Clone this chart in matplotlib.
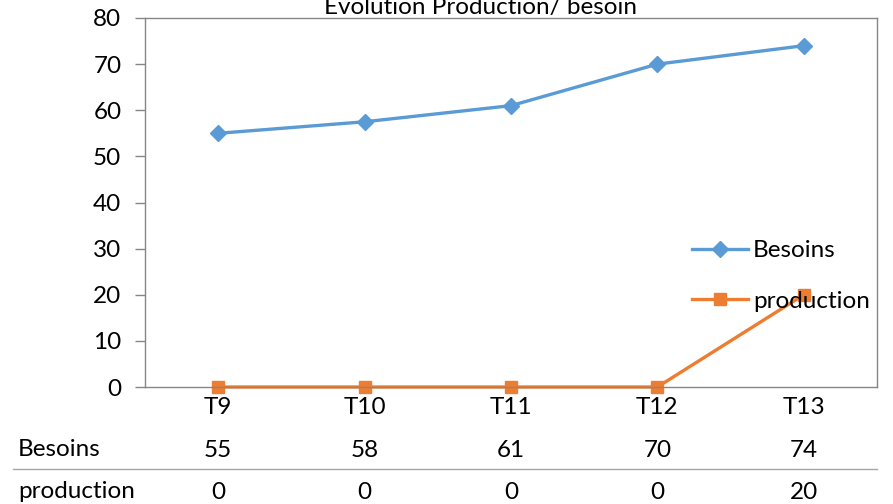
import matplotlib
matplotlib.use("Agg")
import matplotlib.pyplot as plt

# donnees du graphique
periodes = ["T9", "T10", "T11", "T12", "T13"]
besoins = [55, 57.5, 61, 70, 74]
production = [0, 0, 0, 0, 20]
yticks = [0, 10, 20, 30, 40, 50, 60, 70, 80]

plt.rcParams['font.family'] = ['Lato', 'DejaVu Sans']
fs = 17.5
grey = "#868686"

fig = plt.figure(figsize=(8.93, 5.04), dpi=100)
ax = fig.add_axes([145/893, 1 - 387/504, (877 - 145)/893, (387 - 18)/504])

x = range(len(periodes))
ax.plot(x, besoins, color="#5B9BD5", lw=2.4, marker="D", ms=8, label="Besoins")
ax.plot(x, production, color="#ED7D31", lw=2.4, marker="s", ms=9, label="production",
        clip_on=False)

ax.set_xlim(-0.5, len(periodes) - 0.5)
ax.set_ylim(0, 80)
ax.set_yticks(yticks)
ax.tick_params(axis="y", labelsize=fs, length=7, color=grey, pad=10, width=1)
ax.set_xticks([])
for s in ax.spines.values():
    s.set_color(grey)
    s.set_linewidth(1)

# tableau de donnees sous le graphique
tr = ax.get_xaxis_transform()
for i, p in enumerate(periodes):
    ax.text(i, -0.055, p, transform=tr, ha="center", va="center", fontsize=fs)
    ax.text(i, -0.172, f"{besoins[i]:.0f}", transform=tr, ha="center", va="center", fontsize=fs)
    ax.text(i, -0.285, f"{production[i]:.0f}", transform=tr, ha="center", va="center", fontsize=fs)
fig.text(18/893, 1 - 450/504, "Besoins", ha="left", va="center", fontsize=fs)
fig.text(18/893, 1 - 491/504, "production", ha="left", va="center", fontsize=fs)
fig.add_artist(plt.Line2D([13/893, 877/893], [1 - 469/504, 1 - 469/504], color="#A6A6A6", lw=1))

fig.text(481/893, 1 - 14/504, "Evolution Production/ besoin", ha="center", va="baseline", fontsize=fs)

ax.legend(loc="center left", bbox_to_anchor=(692/893, 1 - 276/504), bbox_transform=fig.transFigure,
          frameon=False, fontsize=fs, handlelength=2.3, handletextpad=0.2, labelspacing=1.2,
          borderpad=0, borderaxespad=0)

fig.savefig("out.png", dpi=100)
